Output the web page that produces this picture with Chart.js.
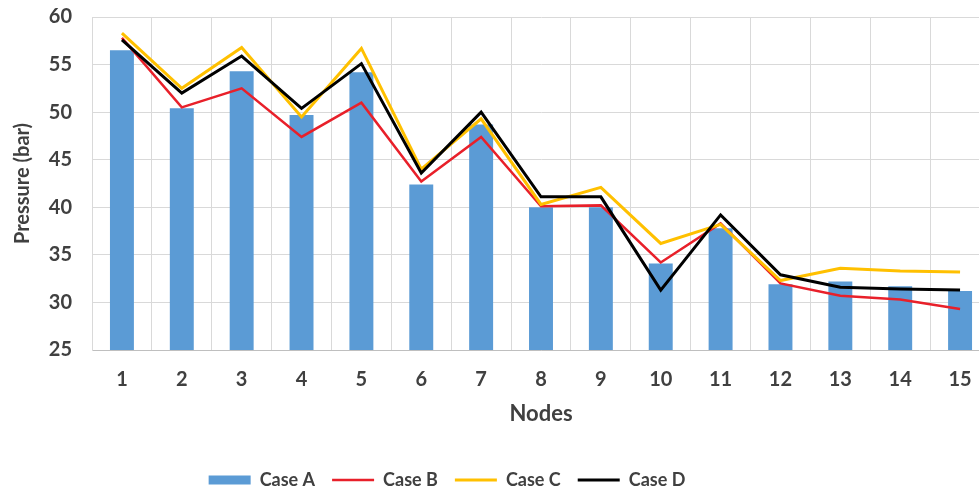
<!DOCTYPE html>
<html>
<head>
<meta charset="utf-8">
<script src="https://cdn.jsdelivr.net/npm/chart.js@4"></script>
<style>
  html, body { margin: 0; padding: 0; background: #fff; overflow: hidden; }
  #wrap { width: 1000px; height: 491px; }
</style>
</head>
<body>
<div id="wrap"><canvas id="pressure-chart" width="1000" height="491"></canvas></div>
<script>
const nodes = ['1', '2', '3', '4', '5', '6', '7', '8', '9', '10', '11', '12', '13', '14', '15'];
const caseA = [56.5, 50.4, 54.3, 49.7, 54.2, 42.4, 48.7, 40.0, 40.0, 34.1, 37.8, 31.9, 32.2, 31.7, 31.2];
const caseB = [57.8, 50.5, 52.5, 47.4, 51.0, 42.7, 47.4, 40.1, 40.2, 34.2, 38.3, 32.0, 30.7, 30.3, 29.3];
const caseC = [58.3, 52.5, 56.8, 49.5, 56.7, 44.0, 49.3, 40.3, 42.1, 36.2, 38.2, 32.3, 33.6, 33.3, 33.2];
const caseD = [57.6, 52.0, 55.9, 50.4, 55.1, 43.6, 50.0, 41.1, 41.1, 31.3, 39.2, 32.9, 31.6, 31.4, 31.3];
const yTicks = [25, 30, 35, 40, 45, 50, 55, 60];

const textColor = '#404040';
const gridColor = '#d9d9d9';
const fontFamily = 'Lato, "Open Sans", sans-serif';

// nudge the legend box to where the original sits (left of centre, lower down)
const legendNudge = {
    id: 'legendNudge',
    afterLayout(chart) {
        const lg = chart.legend;
        lg.left -= 48;
        lg.right -= 48;
        lg.top += 27;
        lg.bottom += 27;
    }
};

const ctx = document.getElementById('pressure-chart').getContext('2d');
const chart = new Chart(ctx, {
    type: 'bar',
    data: {
        labels: nodes,
        datasets: [
            {
                type: 'bar',
                label: 'Case A',
                data: caseA,
                backgroundColor: '#5b9bd5',
                barPercentage: 0.5,
                categoryPercentage: 0.8,
                pointStyle: 'rect',
                order: 4
            },
            {
                type: 'line',
                label: 'Case B',
                data: caseB,
                borderColor: '#e8202a',
                backgroundColor: '#e8202a',
                borderWidth: 2.5,
                pointRadius: 0,
                pointStyle: 'line',
                tension: 0,
                order: 3
            },
            {
                type: 'line',
                label: 'Case C',
                data: caseC,
                borderColor: '#ffc000',
                backgroundColor: '#ffc000',
                borderWidth: 3,
                pointRadius: 0,
                pointStyle: 'line',
                tension: 0,
                order: 2
            },
            {
                type: 'line',
                label: 'Case D',
                data: caseD,
                borderColor: '#000000',
                backgroundColor: '#000000',
                borderWidth: 3,
                pointRadius: 0,
                pointStyle: 'line',
                tension: 0,
                order: 1
            }
        ]
    },
    options: {
        responsive: false,
        animation: false,
        layout: {
            padding: { left: 0, right: 10, top: 17, bottom: 19 }
        },
        plugins: {
            tooltip: { enabled: false },
            legend: {
                position: 'bottom',
                labels: {
                    usePointStyle: true,
                    pointStyleWidth: 42,
                    boxHeight: 9,
                    padding: 17,
                    color: textColor,
                    font: { family: fontFamily, size: 18, weight: 'bold' },
                    sort: (a, b) => a.datasetIndex - b.datasetIndex
                }
            }
        },
        scales: {
            x: {
                grid: { color: gridColor, offset: true, drawTicks: false },
                border: { color: '#bfbfbf' },
                ticks: {
                    color: textColor,
                    padding: 18,
                    font: { family: fontFamily, size: 20, weight: 'bold' }
                },
                title: {
                    display: true,
                    text: 'Nodes',
                    color: textColor,
                    padding: { top: 0, bottom: 0 },
                    font: { family: fontFamily, size: 22, weight: 'bold' }
                },
                afterFit: (scale) => { scale.height = 77; }
            },
            y: {
                min: 25,
                max: 60,
                afterBuildTicks: (scale) => {
                    scale.ticks = yTicks.map(v => ({ value: v }));
                },
                grid: { color: gridColor, drawTicks: false },
                border: { color: gridColor },
                ticks: {
                    color: textColor,
                    padding: 20,
                    font: { family: fontFamily, size: 20, weight: 'bold' }
                },
                title: {
                    display: true,
                    text: 'Pressure (bar)',
                    color: textColor,
                    padding: { top: 11, bottom: 4 },
                    font: { family: fontFamily, size: 20, weight: 'bold' }
                },
                afterFit: (scale) => {
                    scale.width = 92;
                    scale.paddingTop = 0;
                    scale.paddingBottom = 0;
                }
            }
        }
    },
    plugins: [legendNudge]
});
</script>
</body>
</html>
